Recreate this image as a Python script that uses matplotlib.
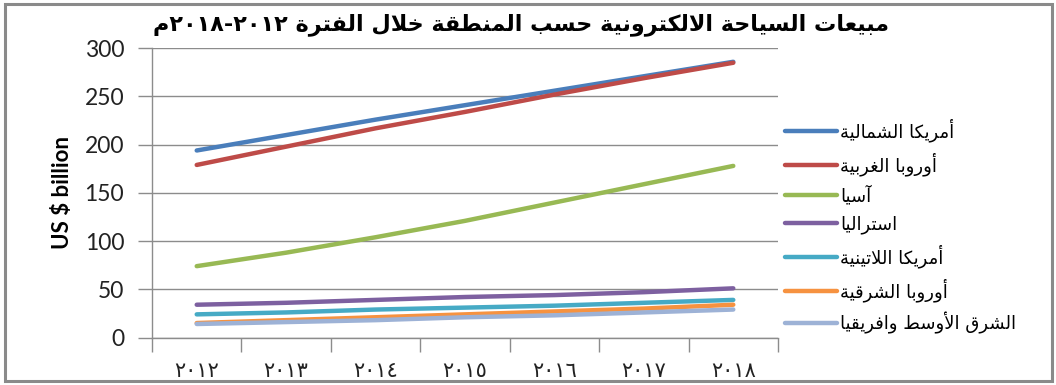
import re
import matplotlib
matplotlib.use("Agg")
import matplotlib.pyplot as plt
from matplotlib.patches import Rectangle

# ---- data -------------------------------------------------------------
years = ["٢٠١٢", "٢٠١٣", "٢٠١٤", "٢٠١٥", "٢٠١٦", "٢٠١٧", "٢٠١٨"]

north_america = [194, 210, 226, 241, 256, 271, 286]
western_europe = [179, 198, 217, 234, 252, 269, 285]
asia = [74, 88, 104, 121, 140, 159, 178]
australia = [34, 36, 39, 42, 44, 47, 51]
latin_america = [24, 26, 29, 31, 33, 36, 39]
eastern_europe = [15, 18, 21, 24, 27, 30, 34]
mideast_africa = [14, 16, 18, 21, 23, 26, 29]

region_names = [
    "أمريكا الشمالية",
    "أوروبا الغربية",
    "آسيا",
    "استراليا",
    "أمريكا اللاتينية",
    "أوروبا الشرقية",
    "الشرق الأوسط وافريقيا",
]
title_text = "مبيعات السياحة الالكترونية حسب المنطقة خلال الفترة ٢٠١٢-٢٠١٨م"
y_label = "US $ billion"

colors = ["#4A7EBB", "#BE4B48", "#98B954", "#7D60A0", "#46AAC5", "#F69240", "#9DB2D6"]

# ---- minimal Arabic shaping (presentation forms) + RTL ordering -------
RIGHT_JOIN = {"\u0622": 0xFE81, "\u0623": 0xFE83, "\u0624": 0xFE85, "\u0625": 0xFE87,
              "\u0627": 0xFE8D, "\u0629": 0xFE93, "\u062F": 0xFEA9, "\u0630": 0xFEAB,
              "\u0631": 0xFEAD, "\u0632": 0xFEAF, "\u0648": 0xFEED, "\u0649": 0xFEEF}
DUAL_JOIN = {"\u0626": 0xFE89, "\u0628": 0xFE8F, "\u062A": 0xFE95, "\u062B": 0xFE99,
             "\u062C": 0xFE9D, "\u062D": 0xFEA1, "\u062E": 0xFEA5, "\u0633": 0xFEB1,
             "\u0634": 0xFEB5, "\u0635": 0xFEB9, "\u0636": 0xFEBD, "\u0637": 0xFEC1,
             "\u0638": 0xFEC5, "\u0639": 0xFEC9, "\u063A": 0xFECD, "\u0641": 0xFED1,
             "\u0642": 0xFED5, "\u0643": 0xFED9, "\u0644": 0xFEDD, "\u0645": 0xFEE1,
             "\u0646": 0xFEE5, "\u0647": 0xFEE9, "\u064A": 0xFEF1}
LAM_ALEF = {"\u0622": 0xFEF5, "\u0623": 0xFEF7, "\u0625": 0xFEF9, "\u0627": 0xFEFB}


def shape(s):
    units = []
    i = 0
    while i < len(s):
        ch = s[i]
        if ch == "\u0644" and i + 1 < len(s) and s[i + 1] in LAM_ALEF:
            units.append(("L", LAM_ALEF[s[i + 1]]))
            i += 2
            continue
        if ch in DUAL_JOIN:
            units.append(("D", DUAL_JOIN[ch]))
        elif ch in RIGHT_JOIN:
            units.append(("R", RIGHT_JOIN[ch]))
        else:
            units.append(("N", ch))
        i += 1
    out = []
    for k, (kind, val) in enumerate(units):
        if kind == "N":
            out.append(val)
            continue
        prev_joins = k > 0 and units[k - 1][0] == "D"
        if kind in "RL":
            out.append(chr(val + 1 if prev_joins else val))
            continue
        next_joins = k + 1 < len(units) and units[k + 1][0] in "DRL"
        if prev_joins and next_joins:
            code = val + 3
        elif prev_joins:
            code = val + 1
        elif next_joins:
            code = val + 2
        else:
            code = val
        out.append(chr(code))
    return "".join(out)


def rtl(s):
    s = shape(s)
    runs = re.findall(r"\d+|\D+", s)
    return "".join(r if r[0].isdigit() else r[::-1] for r in reversed(runs))


# ---- figure -----------------------------------------------------------
W, H = 1056, 385
fig = plt.figure(figsize=(W / 100, H / 100), dpi=100)
fig.patch.set_facecolor("white")

ax_left, ax_right, ax_top, ax_bot = 152, 778, 48.3, 337.5
ax = fig.add_axes([ax_left / W, 1 - ax_bot / H, (ax_right - ax_left) / W, (ax_bot - ax_top) / H])

series = [north_america, western_europe, asia, australia, latin_america,
          eastern_europe, mideast_africa]
x = list(range(len(years)))
handles = []
for vals, col, name in zip(series, colors, region_names):
    (ln,) = ax.plot(x, vals, color=col, lw=3.2, solid_capstyle="round", label=rtl(name))
    handles.append(ln)

grid_col = "#8C8C8C"
ax.set_ylim(0, 300)
ax.set_yticks(range(0, 301, 50))
ax.set_xlim(-0.5, len(years) - 0.5)
ax.set_xticks([i - 0.5 for i in range(len(years) + 1)])
ax.set_xticklabels([])
ax.set_xticks(x, minor=True)
ax.set_xticklabels(years, minor=True, fontsize=15, family="DejaVu Sans", color="#222222")
ax.tick_params(axis="x", which="major", length=10, width=1, color=grid_col, direction="out")
ax.tick_params(axis="x", which="minor", length=0, pad=17)
ax.tick_params(axis="y", length=10, width=1, color=grid_col, pad=10, labelsize=16.5)
for lbl in ax.get_yticklabels():
    lbl.set_family("Lato")
    lbl.set_color("#222222")

ax.grid(axis="y", color=grid_col, lw=1.0)
ax.set_axisbelow(True)
for side in ("top", "right"):
    ax.spines[side].set_visible(False)
for side in ("left", "bottom"):
    ax.spines[side].set_color(grid_col)
    ax.spines[side].set_linewidth(1.0)

ax.set_ylabel(y_label, family="Lato", fontweight="bold", fontsize=16, labelpad=8)

fig.text(521 / W, 1 - 25 / H, rtl(title_text), ha="center", va="center",
         family="DejaVu Sans", fontweight="bold", fontsize=16)

fig.legend(handles=handles, loc="upper left", bbox_to_anchor=(785 / W, 1 - 118.5 / H),
           frameon=False, borderpad=0, borderaxespad=0, handlelength=2.9,
           handletextpad=0.15, labelspacing=0.56,
           prop={"family": "DejaVu Sans", "size": 13})

fig.patches.append(Rectangle((5 / W, 1 - 381 / H), (1052 - 5) / W, (381 - 4) / H,
                             transform=fig.transFigure, fill=False,
                             edgecolor="#8A8A8A", lw=2.2))

fig.savefig("out.png", dpi=100, facecolor="white")
